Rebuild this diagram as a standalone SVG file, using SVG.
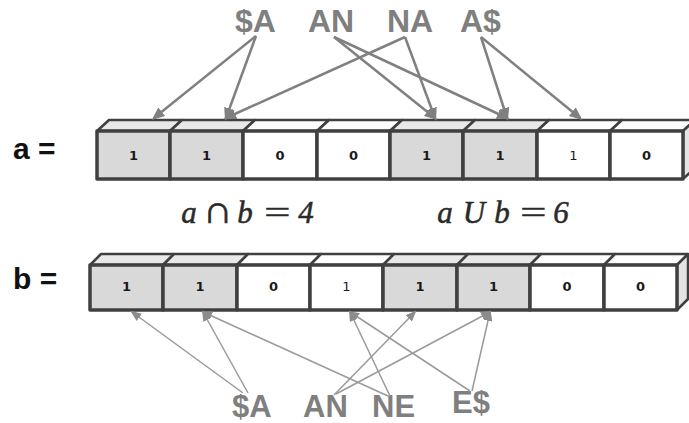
<svg xmlns="http://www.w3.org/2000/svg" width="689" height="423" viewBox="0 0 689 423">
  <style>
    .front-on { fill: #d9d9d9; stroke: #404040; stroke-width: 3.5; stroke-linejoin: round; }
    .front-off { fill: #ffffff; stroke: #404040; stroke-width: 3.5; stroke-linejoin: round; }
    .top-on { fill: #e8e8e8; stroke: #404040; stroke-width: 2.5; stroke-linejoin: round; }
    .top-off { fill: #ffffff; stroke: #404040; stroke-width: 2.5; stroke-linejoin: round; }
    .side { fill: #e4e4e4; stroke: #404040; stroke-width: 2.5; stroke-linejoin: round; }
    .bit { font-family: "DejaVu Sans", Verdana, sans-serif; font-size: 13px; font-weight: bold; fill: #1a1a1a; text-anchor: middle; }
    .bit-light { font-weight: normal; }
    .var { font-family: "Liberation Sans", Arial, sans-serif; font-size: 30px; font-weight: bold; fill: #111111; }
    .gram { font-family: "Liberation Sans", Arial, sans-serif; font-size: 32px; font-weight: bold; fill: #7f7f7f; }
    .gram-b { font-family: "Liberation Sans", Arial, sans-serif; font-size: 31px; font-weight: bold; fill: #7f7f7f; }
    .math { font-family: "Liberation Serif", "DejaVu Serif", serif; font-size: 31px; font-style: italic; fill: #2a2a2a; stroke: #2a2a2a; stroke-width: 0.5; text-anchor: middle; }
    .link-top { stroke: #808080; stroke-width: 2.5; fill: none; marker-end: url(#headTop); }
    .link-bot { stroke: #9a9a9a; stroke-width: 1.5; fill: none; marker-end: url(#headBot); }
  </style>
  <defs>
    <marker id="headTop" viewBox="0 0 13 11" refX="10" refY="5.5" markerWidth="13" markerHeight="11" markerUnits="userSpaceOnUse" orient="auto">
      <path d="M0,0 L13,5.5 L0,11 z" fill="#808080"/>
    </marker>
    <marker id="headBot" viewBox="0 0 11 9" refX="9" refY="4.5" markerWidth="11" markerHeight="9" markerUnits="userSpaceOnUse" orient="auto">
      <path d="M0,0 L11,4.5 L0,9 z" fill="#8c8c8c"/>
    </marker>
  </defs>

  <rect width="689" height="423" fill="#ffffff"/>

  <!-- row labels -->
  <g id="label-a"><text class="var" x="13" y="159">a =</text></g>
  <g id="label-b"><text class="var" x="13" y="289">b =</text></g>

  <!-- bit vector a -->
  <g id="a0">
    <polygon class="top-on" points="97,131 109,120 182,120 170,131"/>
    <rect class="front-on" x="97" y="131" width="73" height="48"/>
    <text class="bit" x="133.5" y="160">1</text>
  </g>
  <g id="a1">
    <polygon class="top-on" points="170,131 182,120 255,120 243,131"/>
    <rect class="front-on" x="170" y="131" width="73" height="48"/>
    <text class="bit" x="206.5" y="160">1</text>
  </g>
  <g id="a2">
    <polygon class="top-off" points="243,131 255,120 329,120 317,131"/>
    <rect class="front-off" x="243" y="131" width="74" height="48"/>
    <text class="bit" x="280" y="160">0</text>
  </g>
  <g id="a3">
    <polygon class="top-off" points="317,131 329,120 402,120 390,131"/>
    <rect class="front-off" x="317" y="131" width="73" height="48"/>
    <text class="bit" x="353.5" y="160">0</text>
  </g>
  <g id="a4">
    <polygon class="top-on" points="390,131 402,120 475,120 463,131"/>
    <rect class="front-on" x="390" y="131" width="73" height="48"/>
    <text class="bit" x="426.5" y="160">1</text>
  </g>
  <g id="a5">
    <polygon class="top-on" points="463,131 475,120 549,120 537,131"/>
    <rect class="front-on" x="463" y="131" width="74" height="48"/>
    <text class="bit" x="500" y="160">1</text>
  </g>
  <g id="a6">
    <polygon class="top-off" points="537,131 549,120 622,120 610,131"/>
    <rect class="front-off" x="537" y="131" width="73" height="48"/>
    <text class="bit bit-light" x="573.5" y="160">1</text>
  </g>
  <g id="a7">
    <polygon class="top-off" points="610,131 622,120 695,120 683,131"/>
    <polygon class="side" points="683,131 695,120 695,168 683,179"/>
    <rect class="front-off" x="610" y="131" width="73" height="48"/>
    <text class="bit" x="646.5" y="160">0</text>
  </g>

  <!-- bit vector b -->
  <g id="b0">
    <polygon class="top-on" points="90,265 101,254 174,254 163,265"/>
    <rect class="front-on" x="90" y="265" width="73" height="45"/>
    <text class="bit" x="126.5" y="291">1</text>
  </g>
  <g id="b1">
    <polygon class="top-on" points="163,265 174,254 248,254 237,265"/>
    <rect class="front-on" x="163" y="265" width="74" height="45"/>
    <text class="bit" x="200" y="291">1</text>
  </g>
  <g id="b2">
    <polygon class="top-off" points="237,265 248,254 321,254 310,265"/>
    <rect class="front-off" x="237" y="265" width="73" height="45"/>
    <text class="bit" x="273.5" y="291">0</text>
  </g>
  <g id="b3">
    <polygon class="top-off" points="310,265 321,254 394,254 383,265"/>
    <rect class="front-off" x="310" y="265" width="73" height="45"/>
    <text class="bit bit-light" x="346.5" y="291">1</text>
  </g>
  <g id="b4">
    <polygon class="top-on" points="383,265 394,254 468,254 457,265"/>
    <rect class="front-on" x="383" y="265" width="74" height="45"/>
    <text class="bit" x="420" y="291">1</text>
  </g>
  <g id="b5">
    <polygon class="top-on" points="457,265 468,254 541,254 530,265"/>
    <rect class="front-on" x="457" y="265" width="73" height="45"/>
    <text class="bit" x="493.5" y="291">1</text>
  </g>
  <g id="b6">
    <polygon class="top-off" points="530,265 541,254 615,254 604,265"/>
    <rect class="front-off" x="530" y="265" width="74" height="45"/>
    <text class="bit" x="567" y="291">0</text>
  </g>
  <g id="b7">
    <polygon class="top-off" points="604,265 615,254 688,254 677,265"/>
    <polygon class="side" points="677,265 688,254 688,299 677,310"/>
    <rect class="front-off" x="604" y="265" width="73" height="45"/>
    <text class="bit" x="640.5" y="291">0</text>
  </g>

  <!-- set formulas -->
  <g id="intersection">
    <text class="math" x="189" y="223">a</text>
    <text class="math" transform="translate(218,223) scale(1.35,1.25)" x="0" y="0">∩</text>
    <text class="math" x="245" y="223">b</text>
    <text class="math" transform="translate(277,223) scale(1.5,1)" x="0" y="0">=</text>
    <text class="math" x="306" y="223">4</text>
  </g>
  <g id="union">
    <text class="math" x="445" y="223">a</text>
    <text class="math" x="474" y="223">U</text>
    <text class="math" x="502" y="223">b</text>
    <text class="math" transform="translate(533,223) scale(1.5,1)" x="0" y="0">=</text>
    <text class="math" x="561" y="223">6</text>
  </g>

  <!-- bigrams of a -->
  <g id="gram-a-1"><text class="gram" x="235" y="32">$A</text></g>
  <g id="gram-a-2"><text class="gram" x="308" y="32">AN</text></g>
  <g id="gram-a-3"><text class="gram" x="387" y="32">NA</text></g>
  <g id="gram-a-4"><text class="gram" x="460" y="32">A$</text></g>

  <!-- bigrams of b -->
  <g id="gram-b-1"><text class="gram-b" x="232" y="417">$A</text></g>
  <g id="gram-b-2"><text class="gram-b" x="303" y="417">AN</text></g>
  <g id="gram-b-3"><text class="gram-b" x="372" y="417">NE</text></g>
  <g id="gram-b-4"><text class="gram-b" x="452" y="413">E$</text></g>

  <!-- hash links -->
  <g id="connectors">
    <line class="link-top" x1="256" y1="36" x2="154" y2="118"/>
    <line class="link-top" x1="256" y1="36" x2="226" y2="118"/>
    <line class="link-top" x1="334" y1="37" x2="435" y2="118"/>
    <line class="link-top" x1="334" y1="37" x2="507" y2="118"/>
    <line class="link-top" x1="405" y1="37" x2="226" y2="118"/>
    <line class="link-top" x1="405" y1="37" x2="435" y2="118"/>
    <line class="link-top" x1="481" y1="37" x2="507" y2="118"/>
    <line class="link-top" x1="481" y1="37" x2="580" y2="118"/>

    <line class="link-bot" x1="243" y1="393" x2="132" y2="312"/>
    <line class="link-bot" x1="248" y1="393" x2="203" y2="312"/>
    <line class="link-bot" x1="334" y1="395" x2="415" y2="312"/>
    <line class="link-bot" x1="336" y1="394" x2="490" y2="312"/>
    <line class="link-bot" x1="388" y1="396" x2="203" y2="312"/>
    <line class="link-bot" x1="390" y1="396" x2="350" y2="312"/>
    <line class="link-bot" x1="470" y1="391" x2="350" y2="312"/>
    <line class="link-bot" x1="472" y1="391" x2="490" y2="312"/>
  </g>
</svg>
